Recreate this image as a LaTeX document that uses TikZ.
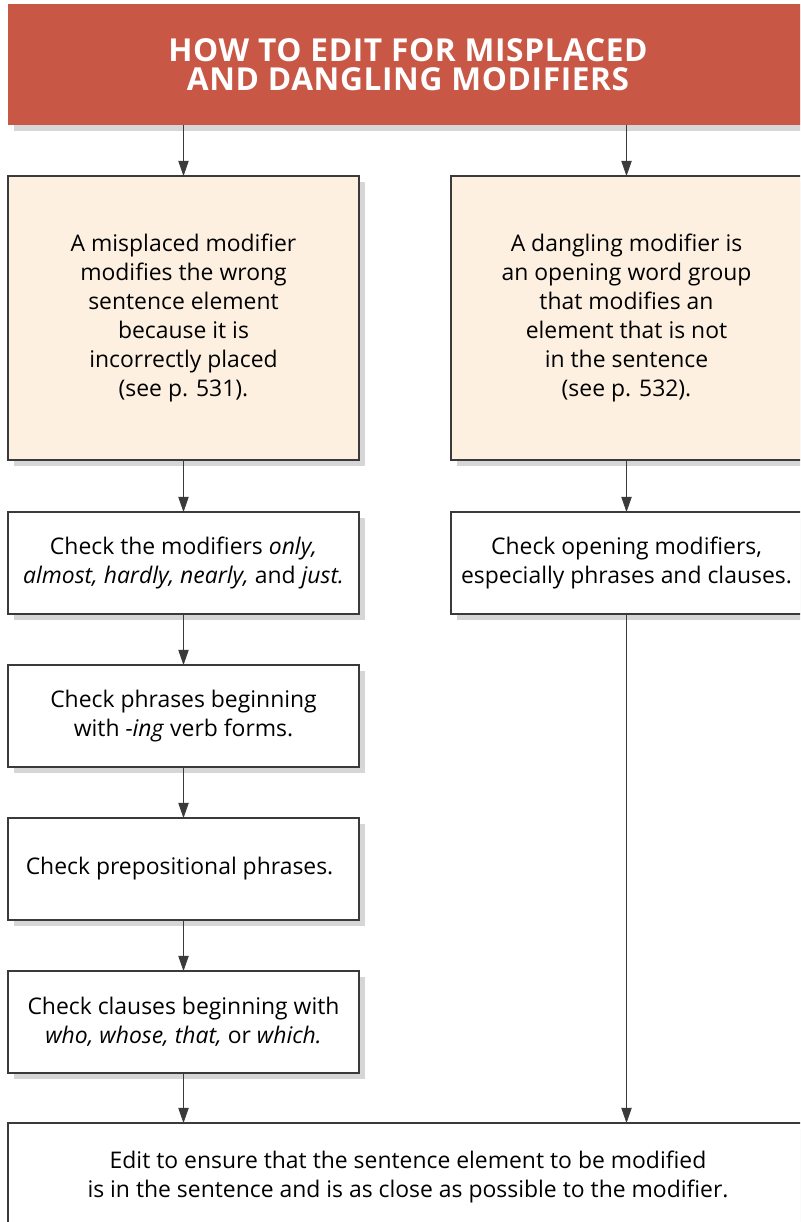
\documentclass[tikz,border=0pt]{standalone}
\usepackage{fontspec}
\setmainfont{Open Sans}
\newfontfamily\headfont{Open Sans}[LetterSpace=2]
\usepackage{xcolor}
\usetikzlibrary{arrows.meta, positioning, shadows}
\definecolor{headred}{HTML}{C85745}
\definecolor{cream}{HTML}{FDF0E1}
\definecolor{edge}{HTML}{3A3A3A}

\begin{document}
\begin{tikzpicture}[
    soft shadow/.style={drop shadow={shadow xshift=1.4mm, shadow yshift=-1.4mm,
                        fill=black, opacity=0.16}},
    title/.style={rectangle, fill=headred, minimum width=20cm, minimum height=3.025cm,
                  inner sep=0pt, outer sep=0pt, align=center, text=white,
                  font=\headfont\bfseries\fontsize{22.5}{20.5}\selectfont, soft shadow},
    kind/.style={rectangle, draw=edge, line width=0.8pt, fill=cream, minimum width=8.775cm,
                 minimum height=7.1cm, inner sep=0pt, outer sep=0pt, align=center,
                 font=\fontsize{16.3}{20.6}\selectfont, soft shadow},
    check/.style={kind, fill=white, minimum height=2.55cm},
    arrow/.style={-{Triangle[length=3.8mm, width=2.6mm]}, line width=0.6pt, draw=edge},
]
\useasboundingbox (0,0) rectangle (20,-30.55);
\clip (0,0) rectangle (20,-30.55);

% Title
\node[title] (title) at (10.2,-1.6125) {HOW TO EDIT FOR MISPLACED\\AND DANGLING MODIFIERS};

% Misplaced modifiers
\node[kind] (misp) at (4.5875,-7.95) {
    A misplaced modifier\\
    modifies the wrong\\
    sentence element\\
    because it is\\
    incorrectly placed\\
    (see p. 531).
};
\node[check, below=1.3cm of misp] (only) {
    Check the modifiers \textit{only,}\\
    \textit{almost, hardly, nearly,} and \textit{just.}
};
\node[check, below=1.275cm of only] (ing) {
    Check phrases beginning\\
    with \textit{-ing} verb forms.
};
\node[check, below=1.275cm of ing] (prep) {
    Check prepositional phrases.
};
\node[check, below=1.275cm of prep] (who) {
    Check clauses beginning with\\
    \textit{who, whose, that,} or \textit{which.}
};

% Dangling modifiers
\node[kind] (dang) at (15.6625,-7.95) {
    A dangling modifier is\\
    an opening word group\\
    that modifies an\\
    element that is not\\
    in the sentence\\
    (see p. 532).
};
\node[check, below=1.3cm of dang] (open) {
    Check opening modifiers,\\
    especially phrases and clauses.
};

% Edit
\node[check, minimum width=20cm, minimum height=2.7cm] (edit) at (10.2,-29.425) {
    Edit to ensure that the sentence element to be modified\\
    is in the sentence and is as close as possible to the modifier.
};

% Arrows
\draw[arrow] (title.south -| misp.north) -- (misp.north);
\draw[arrow] (title.south -| dang.north) -- (dang.north);
\draw[arrow] (misp) -- (only);
\draw[arrow] (only) -- (ing);
\draw[arrow] (ing) -- (prep);
\draw[arrow] (prep) -- (who);
\draw[arrow] (dang) -- (open);
\draw[arrow] (who.south) -- (who.south |- edit.north);
\draw[arrow] (open.south) -- (open.south |- edit.north);

\end{tikzpicture}
\end{document}
